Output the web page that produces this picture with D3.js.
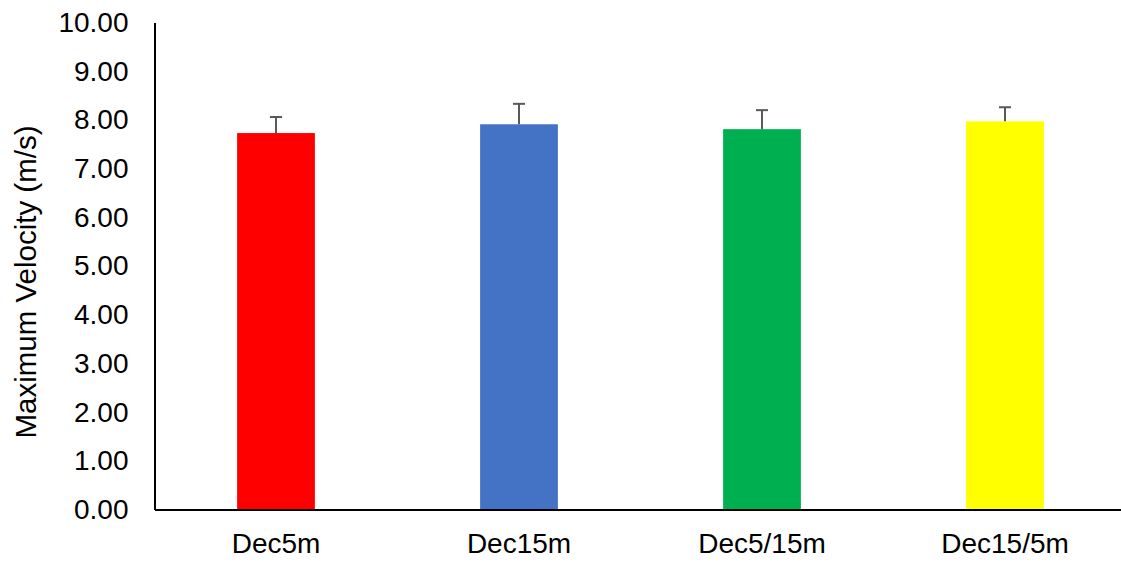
<!DOCTYPE html>
<html>
<head>
<meta charset="utf-8">
<script src="https://cdn.jsdelivr.net/npm/d3@7"></script>
<style>
  html, body { margin: 0; padding: 0; background: #fff; }
  text { font-family: "Liberation Sans", Arial, sans-serif; fill: #000; }
</style>
</head>
<body>
<svg id="chart" width="1121" height="563"></svg>
<script>
const categories = ["Dec5m", "Dec15m", "Dec5/15m", "Dec15/5m"];
const values = [7.73, 7.91, 7.81, 7.97];
const errors = [0.33, 0.42, 0.39, 0.29];
const colors = ["#FF0000", "#4472C4", "#00B050", "#FFFF00"];
const yTicks = [0, 1, 2, 3, 4, 5, 6, 7, 8, 9, 10];
const yTitle = "Maximum Velocity (m/s)";

const svg = d3.select("#chart");
const x0 = 154.5, x1 = 1126.5, yBottom = 509.5, yTop = 22.5;

const x = d3.scaleBand().domain(categories).range([x0, x1]).paddingInner(0.68).paddingOuter(0.34);
const y = d3.scaleLinear().domain([0, 10]).range([yBottom, yTop]);

// bars
svg.selectAll("rect.bar").data(categories).enter().append("rect")
  .attr("class", "bar")
  .attr("x", d => x(d))
  .attr("width", x.bandwidth())
  .attr("y", (d, i) => y(values[i]))
  .attr("height", (d, i) => y(0) - y(values[i]))
  .attr("fill", (d, i) => colors[i]);

// error bars (upper only)
const eg = svg.append("g").attr("stroke", "#595959").attr("stroke-width", 2);
categories.forEach((c, i) => {
  const cx = x(c) + x.bandwidth() / 2;
  eg.append("line").attr("x1", cx).attr("x2", cx)
    .attr("y1", y(values[i])).attr("y2", y(values[i] + errors[i]));
  eg.append("line").attr("x1", cx - 6).attr("x2", cx + 6)
    .attr("y1", y(values[i] + errors[i])).attr("y2", y(values[i] + errors[i]));
});

// y axis
const yAxis = d3.axisLeft(y).tickValues(yTicks).tickFormat(d3.format(".2f")).tickSize(0).tickPadding(26);
const ya = svg.append("g").attr("transform", `translate(${x0},0)`).call(yAxis);
ya.select(".domain").attr("stroke", "#000").attr("stroke-width", 2);
ya.selectAll("text").attr("font-size", 28).attr("font-family", "Liberation Sans, Arial, sans-serif").attr("fill", "#000");

// x axis
const xAxis = d3.axisBottom(x).tickSize(0).tickPadding(24);
const xa = svg.append("g").attr("transform", `translate(0,${yBottom})`).call(xAxis);
xa.select(".domain").attr("stroke", "#000").attr("stroke-width", 2);
xa.selectAll("text").attr("font-size", 28).attr("font-family", "Liberation Sans, Arial, sans-serif").attr("fill", "#000");

// y title
svg.append("text")
  .attr("transform", "translate(36,282) rotate(-90)")
  .attr("text-anchor", "middle")
  .attr("font-size", 29.5)
  .text(yTitle);
</script>
</body>
</html>
